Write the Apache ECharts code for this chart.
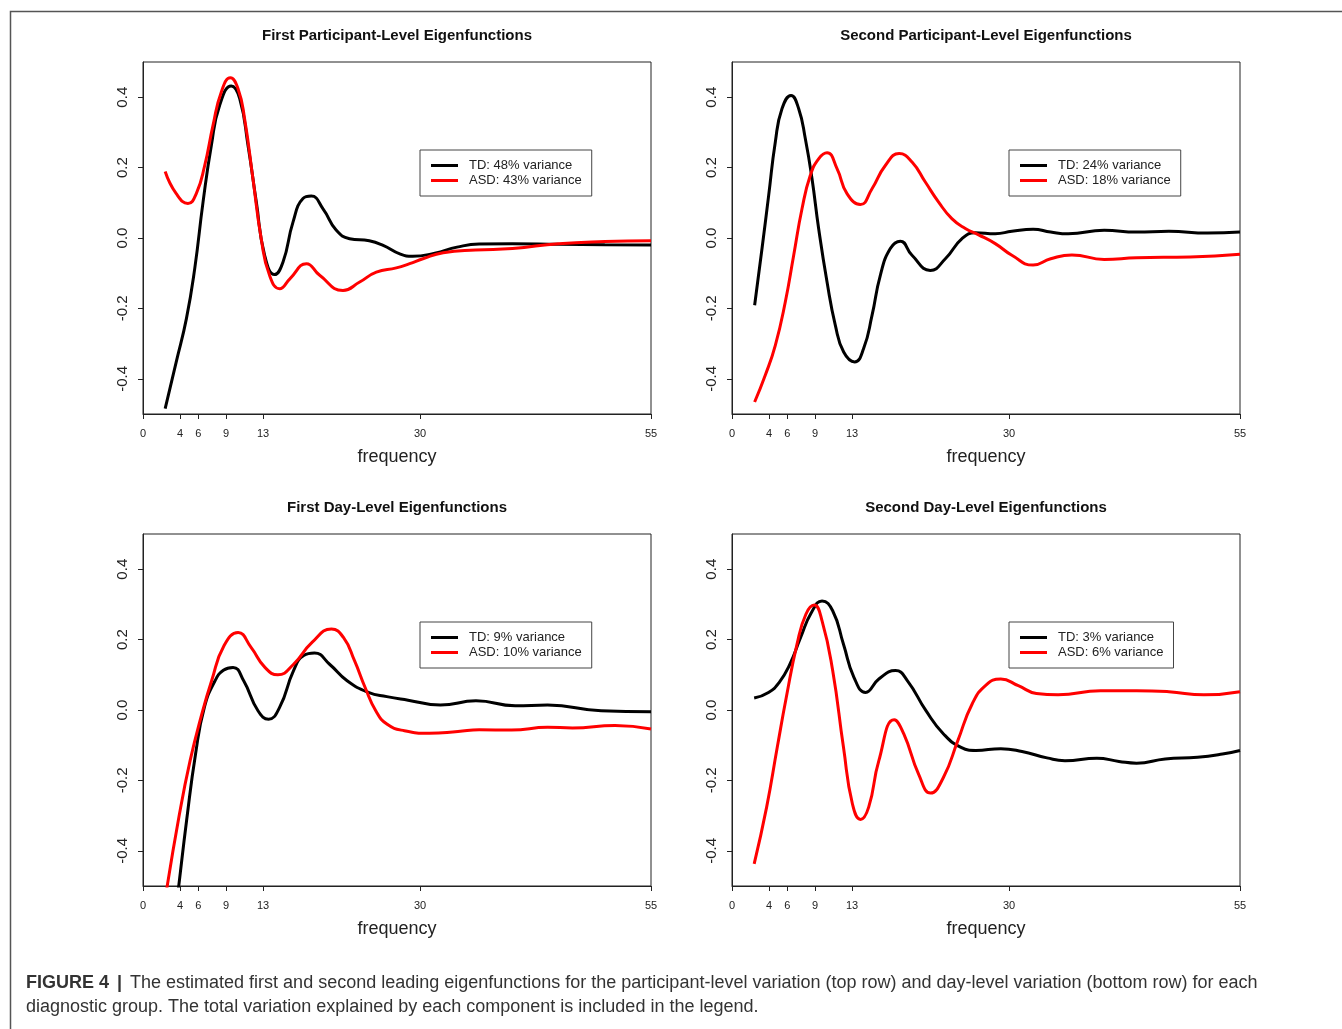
<!DOCTYPE html>
<html>
<head>
<meta charset="utf-8">
<script src="https://cdn.jsdelivr.net/npm/echarts@6/dist/echarts.min.js"></script>
<style>
  html, body { margin: 0; padding: 0; background: #fff; }
  #chart { width: 1342px; height: 1029px; }
</style>
</head>
<body>
<div id="chart"></div>
<script>
// tick positions on the axes
var xTicks = [0, 4, 6, 9, 13, 30, 55]
var yTicks = [-0.4, -0.2, 0, 0.2, 0.4]

var panelTitles = [
  'First Participant-Level Eigenfunctions',
  'Second Participant-Level Eigenfunctions',
  'First Day-Level Eigenfunctions',
  'Second Day-Level Eigenfunctions'
]
var tdNames = ['TD: 48% variance', 'TD: 24% variance', 'TD: 9% variance', 'TD: 3% variance']
var asdNames = ['ASD: 43% variance', 'ASD: 18% variance', 'ASD: 10% variance', 'ASD: 6% variance']

// [frequency, eigenfunction value]
var p1TD = [[2.4, -0.485], [3.6, -0.352], [4.7, -0.229], [5.6, -0.087], [6.5, 0.102], [7.4, 0.263], [8.3, 0.377], [9.56, 0.432], [10.47, 0.396], [11.37, 0.263], [12.27, 0.102], [13.17, -0.049], [14.25, -0.104], [15.16, -0.068], [16.24, 0.045], [17.32, 0.112], [18.22, 0.119], [19.49, 0.083], [20.93, 0.022], [22.37, -0.002], [24.5, -0.008], [26, -0.021], [27.8, -0.045], [29.2, -0.052], [31.6, -0.043], [34, -0.026], [36.4, -0.017], [40, -0.016], [45, -0.018], [50, -0.019], [55, -0.02]]
var p1ASD = [[2.4, 0.189], [3.6, 0.126], [4.87, 0.098], [5.77, 0.126], [6.68, 0.206], [7.58, 0.32], [8.48, 0.415], [9.46, 0.455], [10.29, 0.424], [11, 0.339], [11.9, 0.169], [12.8, -0.002], [13.7, -0.106], [14.8, -0.144], [15.9, -0.116], [17.7, -0.073], [19.13, -0.106], [21.65, -0.149], [23.46, -0.125], [25.26, -0.097], [27.43, -0.085], [28.87, -0.073], [30.3, -0.059], [32.5, -0.042], [36, -0.034], [40, -0.03], [45, -0.016], [50, -0.01], [55, -0.008]]

var p2TD = [[2.45, -0.191], [3.25, -0.03], [3.97, 0.121], [4.69, 0.273], [5.41, 0.367], [6.39, 0.405], [7.22, 0.367], [7.94, 0.282], [8.66, 0.169], [9.38, 0.027], [10.29, -0.125], [11.19, -0.248], [12.09, -0.324], [13.28, -0.352], [14.25, -0.314], [15.16, -0.22], [16.06, -0.106], [17.14, -0.03], [18.22, -0.009], [19.49, -0.049], [21.47, -0.092], [23.1, -0.059], [24.9, -0.002], [26.34, 0.015], [28.5, 0.012], [30.3, 0.019], [32.6, 0.025], [34.5, 0.017], [36.4, 0.012], [40.3, 0.022], [43.8, 0.017], [47.3, 0.019], [51.5, 0.014], [55, 0.017]]
var p2ASD = [[2.45, -0.466], [3.6, -0.39], [4.69, -0.305], [5.77, -0.182], [6.68, -0.049], [7.58, 0.083], [8.48, 0.178], [9.38, 0.225], [10.29, 0.242], [11.37, 0.197], [12.45, 0.126], [13.9, 0.095], [15.16, 0.14], [16.6, 0.206], [18.1, 0.24], [19.49, 0.216], [20.93, 0.159], [22.37, 0.102], [23.8, 0.055], [25.26, 0.027], [26.7, 0.009], [28.5, -0.016], [30.3, -0.049], [32.6, -0.077], [34.5, -0.059], [36.8, -0.048], [40.3, -0.061], [43.8, -0.056], [49.6, -0.054], [55, -0.046]]

var p3TD = [[2.5, -0.8], [3.87, -0.5], [4.72, -0.314], [5.69, -0.125], [6.65, 0.008], [7.8, 0.083], [8.7, 0.113], [9.75, 0.121], [10.9, 0.083], [12.45, -0.002], [13.6, -0.026], [14.8, 0.008], [16.3, 0.112], [17.4, 0.155], [18.57, 0.162], [20.2, 0.13], [22.1, 0.083], [24.4, 0.05], [26.4, 0.038], [28.7, 0.028], [32.2, 0.014], [36.05, 0.026], [40.3, 0.012], [43.8, 0.014], [49.6, -0.002], [55, -0.005]]
var p3ASD = [[2.5, -0.52], [3.95, -0.295], [5.1, -0.144], [6.27, -0.021], [7.43, 0.083], [8.78, 0.183], [10.3, 0.22], [11.7, 0.178], [13.2, 0.121], [14.6, 0.1], [16.3, 0.13], [18.3, 0.192], [20.4, 0.23], [21.7, 0.206], [22.9, 0.14], [24.05, 0.064], [25.2, -0.002], [26.4, -0.04], [28.3, -0.059], [31, -0.066], [34.1, -0.061], [36.4, -0.056], [39.9, -0.057], [43.8, -0.049], [46.5, -0.051], [51.1, -0.044], [55, -0.054]]

var p4TD = [[2.4, 0.034], [3.95, 0.05], [5.1, 0.078], [6.27, 0.13], [7.43, 0.206], [8.6, 0.277], [9.75, 0.31], [10.9, 0.282], [12.07, 0.187], [13.2, 0.093], [14.47, 0.05], [15.9, 0.088], [17.7, 0.112], [19, 0.083], [21, -0.002], [22.9, -0.068], [24.8, -0.106], [26.4, -0.115], [29.1, -0.11], [31.4, -0.118], [34.1, -0.136], [36.05, -0.144], [39.5, -0.137], [41.9, -0.146], [43.8, -0.151], [46.9, -0.139], [50.4, -0.134], [53.1, -0.125], [55, -0.115]]
var p4ASD = [[2.4, -0.437], [3.75, -0.276], [4.9, -0.106], [5.88, 0.036], [7.04, 0.187], [8, 0.272], [8.9, 0.298], [9.75, 0.253], [10.9, 0.112], [12.07, -0.106], [13.04, -0.267], [13.93, -0.311], [14.8, -0.276], [15.9, -0.144], [17.56, -0.028], [18.6, -0.068], [20.2, -0.182], [21.5, -0.236], [22.9, -0.191], [24.45, -0.087], [26, 0.017], [27.5, 0.071], [29.1, 0.088], [31, 0.069], [32.96, 0.047], [35.3, 0.043], [39.9, 0.055], [43.8, 0.055], [47.3, 0.052], [51.1, 0.043], [55, 0.052]]

var tdData = [p1TD, p2TD, p3TD, p4TD]
var asdData = [p1ASD, p2ASD, p3ASD, p4ASD]

var FONT = '"Liberation Sans", Arial, sans-serif'
var lefts = [143, 732, 143, 732]
var tops = [62, 62, 534, 534]
var plotW = 508
var plotH = 352
var legendW = [174, 174, 174, 164]

var myChart = echarts.init(document.getElementById('chart'), null, {renderer: 'canvas'})

var grids = []
var xAxes = []
var yAxes = []
var series = []
var legends = []
var graphics = []

for (var i = 0; i < 4; i++) {
  grids.push({
    left: lefts[i],
    top: tops[i],
    width: plotW,
    height: plotH,
    show: true,
    borderColor: '#222',
    borderWidth: 1,
    backgroundColor: 'transparent'
  })
  xAxes.push({
    gridIndex: i,
    type: 'value',
    min: 0,
    max: 55,
    splitLine: {show: false},
    axisLine: {show: true, onZero: false, lineStyle: {color: '#222', width: 1}},
    axisTick: {show: true, length: 5, lineStyle: {color: '#222'}, customValues: xTicks},
    axisLabel: {color: '#222', fontSize: 11, fontFamily: FONT, margin: 14, customValues: xTicks}
  })
  yAxes.push({
    gridIndex: i,
    type: 'value',
    min: -0.5,
    max: 0.5,
    splitLine: {show: false},
    axisLine: {show: true, onZero: false, lineStyle: {color: '#222', width: 1}},
    axisTick: {show: true, length: 5, lineStyle: {color: '#222'}, customValues: yTicks},
    axisLabel: {
      color: '#222',
      fontSize: 15,
      fontFamily: FONT,
      rotate: 90,
      margin: 13,
      customValues: yTicks,
      formatter: function (v) { return v.toFixed(1) }
    }
  })
  series.push({
    name: tdNames[i],
    type: 'line',
    xAxisIndex: i,
    yAxisIndex: i,
    data: tdData[i],
    smooth: 0.5,
    showSymbol: false,
    clip: true,
    color: '#000',
    lineStyle: {width: 3, color: '#000'}
  })
  series.push({
    name: asdNames[i],
    type: 'line',
    xAxisIndex: i,
    yAxisIndex: i,
    data: asdData[i],
    smooth: 0.5,
    showSymbol: false,
    clip: true,
    color: '#ff0000',
    lineStyle: {width: 3, color: '#ff0000'}
  })
  legends.push({
    data: [tdNames[i], asdNames[i]],
    orient: 'vertical',
    left: lefts[i] + 277,
    top: tops[i] + 88,
    width: legendW[i],
    icon: 'rect',
    itemWidth: 27,
    itemHeight: 3,
    itemGap: 2,
    padding: [9, 10, 9, 11],
    borderColor: '#444',
    borderWidth: 1,
    selectedMode: false,
    textStyle: {fontSize: 13, fontFamily: FONT, color: '#222', padding: [0, 0, 0, 6]}
  })
  graphics.push({
    type: 'text',
    x: lefts[i] + plotW / 2,
    y: tops[i] - 26,
    style: {
      text: panelTitles[i],
      font: 'bold 15px ' + FONT,
      fill: '#111',
      textAlign: 'center',
      textVerticalAlign: 'middle'
    }
  })
  graphics.push({
    type: 'text',
    x: lefts[i] + plotW / 2,
    y: tops[i] + plotH + 43,
    style: {
      text: 'frequency',
      font: '18px ' + FONT,
      fill: '#222',
      textAlign: 'center',
      textVerticalAlign: 'middle'
    }
  })
}

// figure frame and caption
graphics.push({
  type: 'rect',
  shape: {x: 10.5, y: 11.5, width: 1400, height: 1100},
  style: {fill: 'none', stroke: '#555', lineWidth: 1.5}
})
graphics.push({
  type: 'text',
  x: 26,
  y: 983,
  style: {
    text: '{b|FIGURE 4} {s||} The estimated first and second leading eigenfunctions for the participant-level variation (top row) and day-level variation (bottom row) for each',
    font: '18px ' + FONT,
    fill: '#333',
    textVerticalAlign: 'middle',
    rich: {
      b: {font: 'bold 18px ' + FONT, fill: '#333'},
      s: {font: 'bold 18px ' + FONT, fill: '#333', padding: [0, 3, 0, 3]}
    }
  }
})
graphics.push({
  type: 'text',
  x: 26,
  y: 1007,
  style: {
    text: 'diagnostic group. The total variation explained by each component is included in the legend.',
    font: '18px ' + FONT,
    fill: '#333',
    textVerticalAlign: 'middle'
  }
})

myChart.setOption({
  animation: false,
  backgroundColor: '#fff',
  grid: grids,
  xAxis: xAxes,
  yAxis: yAxes,
  legend: legends,
  series: series,
  graphic: graphics
})
</script>
</body>
</html>
